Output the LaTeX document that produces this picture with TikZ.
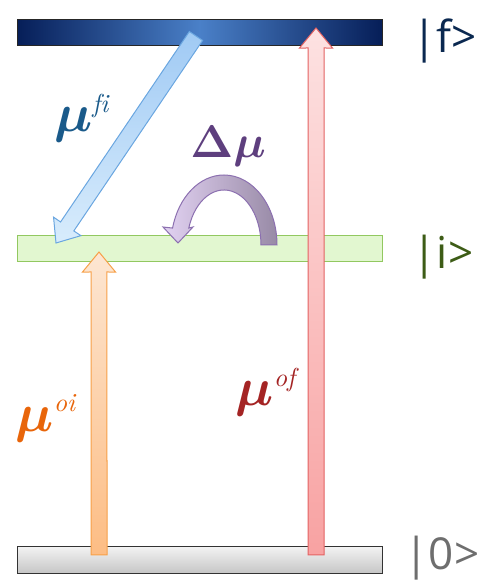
\documentclass[tikz,border=0pt]{standalone}
\usepackage{bm}
\usepackage{fontspec}
\newfontfamily\handfont{Open Sans}
\usepackage{tikz}
\usetikzlibrary{calc,positioning}
\definecolor{fnavy}{RGB}{6,30,88}
\definecolor{fmid}{RGB}{74,128,200}
\definecolor{flab}{RGB}{10,40,80}
\definecolor{ilab}{RGB}{61,92,22}
\definecolor{olab}{RGB}{110,110,110}
\definecolor{fiblue}{RGB}{26,90,138}
\definecolor{dmpurple}{RGB}{94,63,126}
\definecolor{oiorange}{RGB}{232,101,10}
\definecolor{ofred}{RGB}{164,36,36}

\begin{document}
\begin{tikzpicture}[x=1pt, y=1pt,
 level/.style={minimum width=365pt, minimum height=26pt, inner sep=0pt, line width=1pt},
 lvlab/.style={font=\handfont\fontsize{44}{44}\selectfont, inner sep=0pt},
 mlab/.style={font=\fontsize{20}{20}\selectfont, inner sep=0pt, scale=2.6, transform shape},
 blk/.style={line width=1pt, to path={
   ($(\tikztostart)!8pt!90:(\tikztotarget)$)
   -- ($(\tikztotarget)!21.54pt!-21.8:(\tikztostart)$)
   -- ($(\tikztotarget)!25.94pt!-39.5:(\tikztostart)$)
   -- (\tikztotarget)
   -- ($(\tikztotarget)!25.94pt!39.5:(\tikztostart)$)
   -- ($(\tikztotarget)!21.54pt!21.8:(\tikztostart)$)
   -- ($(\tikztostart)!8pt!-90:(\tikztotarget)$) -- cycle}}]
\useasboundingbox (0,0) rectangle (481,582);

% energy levels
\node[level, left color=fnavy, right color=fnavy, middle color=fmid, draw=black!85] (lvf) at (199.5,549) {};
\node[level, fill={rgb,255:red,226;green,247;blue,208}, draw={rgb,255:red,146;green,200;blue,96}] (lvi) at (199.5,333) {};
\node[level, minimum height=27pt, top color=black!5, bottom color=black!23, draw=black!80] (lvo) at (199.5,21.5) {};

\node[lvlab, text=flab, right=30pt of lvf, yshift=-8pt] (labf) {|f>};
\node[lvlab, text=ilab, right=30pt of lvi, yshift=-8pt] (labi) {|i>};
\node[lvlab, text=olab, right=22pt of lvo, yshift=2pt] (labo) {|0>};

% transitions
\coordinate (fi0) at (196,546);
\coordinate (fi1) at (56,339);
\coordinate (oi0) at (99,27);
\coordinate (oi1) at (99,330);
\coordinate (of0) at (316,27);
\coordinate (of1) at (316,554);

\path[blk, top color={rgb,255:red,160;green,202;blue,244}, bottom color={rgb,255:red,216;green,236;blue,252},
  draw={rgb,255:red,106;green,166;blue,224}] (fi0) to (fi1);
\path[blk, top color={rgb,255:red,253;green,230;blue,210}, bottom color={rgb,255:red,253;green,189;blue,132},
  draw={rgb,255:red,247;green,160;blue,72}] (oi0) to (oi1);
\path[blk, top color={rgb,255:red,253;green,226;blue,226}, bottom color={rgb,255:red,248;green,162;blue,162},
  draw={rgb,255:red,227;green,98;blue,98}] (of0) to (of1);

% dipole change
\path[line width=1pt, left color={rgb,255:red,226;green,210;blue,242}, right color={rgb,255:red,152;green,138;blue,166},
  draw={rgb,255:red,140;green,112;blue,176}]
  (277,337) arc[start angle=0, end angle=166, x radius=53, y radius=70]
  -- (163,355) -- (178,339) -- (193,355) -- (188.8,354)
  arc[start angle=162, end angle=0, x radius=37, y radius=55] -- cycle;

\node[mlab, text=fiblue] (mfi) at (82,464) {$\bm{\mu}^{\scriptscriptstyle\mathit{fi}}$};
\node[mlab, text=dmpurple, scale=0.85] (dmu) at (228,436) {$\bm{\Delta\mu}$};
\node[mlab, text=oiorange] (moi) at (46,164) {$\bm{\mu}^{\scriptscriptstyle\mathit{oi}}$};
\node[mlab, text=ofred] (mof) at (266,190) {$\bm{\mu}^{\scriptscriptstyle\mathit{of}}$};
\end{tikzpicture}
\end{document}
